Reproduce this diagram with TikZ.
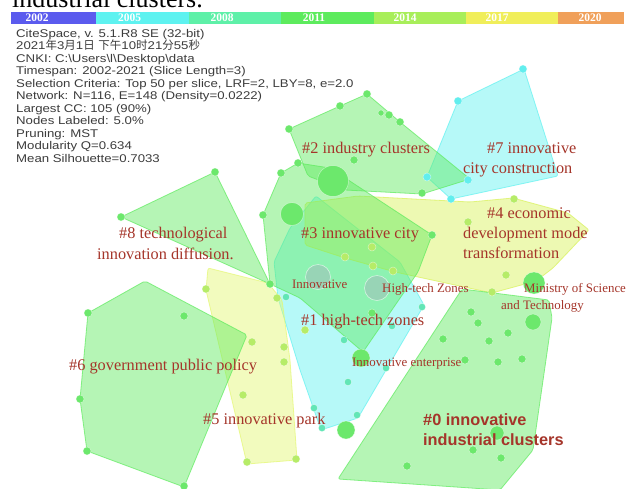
\documentclass[tikz,border=0pt]{standalone}
\usepackage{fontspec}
\setmainfont{Liberation Serif}
\newfontfamily\hdrfont[FakeStretch=1.18]{Liberation Sans}
\newfontfamily\lblsans{Liberation Sans}
\newfontfamily\cjk{Noto Sans CJK SC}
\definecolor{cBlue}{HTML}{5B5BEE}
\definecolor{cCyan}{HTML}{5EF2F0}
\definecolor{cMint}{HTML}{5EF0A8}
\definecolor{cGreen}{HTML}{5DEB5D}
\definecolor{cYG}{HTML}{A8EE5A}
\definecolor{cYel}{HTML}{F0EE5A}
\definecolor{cOra}{HTML}{F0A05A}
\definecolor{hY}{HTML}{E4F870}
\definecolor{hYG}{HTML}{D8F256}
\definecolor{dG}{HTML}{6CE86C}
\definecolor{dYG}{HTML}{B6EC68}
\definecolor{dC}{HTML}{62EEEE}
\definecolor{dT}{HTML}{62E6B6}
\definecolor{dGray}{HTML}{98D4B6}
\definecolor{lbl}{HTML}{A5352A}
\definecolor{hdr}{HTML}{3C3C3C}
\begin{document}
\begin{tikzpicture}[x=1pt,y=-1pt,
  hull/.style={fill opacity=0.45,draw opacity=0.7,line width=0.8pt,rounded corners=2pt,line join=round},
  hullG/.style={hull,fill=cGreen,draw=cGreen},
  hullC/.style={hull,fill=cCyan,draw=cCyan},
  hullY/.style={hull,fill=hY,draw=hY},
  hullYG/.style={hull,fill=hYG,draw=hYG},
  dotG/.style={fill=dG,draw=white,draw opacity=0.5,line width=0.5pt},
  dotYG/.style={fill=dYG,draw=white,draw opacity=0.5,line width=0.5pt},
  dotC/.style={fill=dC,draw=white,draw opacity=0.5,line width=0.5pt},
  dotT/.style={fill=dT,draw=white,draw opacity=0.5,line width=0.5pt},
  dotGray/.style={fill=dGray,draw=white,draw opacity=0.6,line width=0.6pt},
  lab/.style={text=lbl,inner sep=0pt,anchor=base west,font=\fontsize{16.3}{19}\selectfont},
  slab/.style={text=lbl,inner sep=0pt,anchor=base west,font=\fontsize{12.9}{15}\selectfont},
  blab/.style={text=lbl,inner sep=0pt,anchor=base west,font=\lblsans\bfseries\fontsize{16.3}{19}\selectfont},
  hline/.style={text=hdr,inner sep=0pt,anchor=base west,font=\hdrfont\fontsize{11.2}{12.5}\selectfont},
  barlbl/.style={text=white,inner sep=0pt,font=\bfseries\fontsize{11.5}{12}\selectfont}
]
\useasboundingbox (0,0) rectangle (627,488);
\clip (0,0) rectangle (627,488);
\fill[white] (0,0) rectangle (627,488);

% cut-off text at top
\node[inner sep=0pt,anchor=base west,font=\fontsize{26}{30}\selectfont] (toptext) at (12,7) {industrial clusters.};

% colour bar
\fill[cBlue] (11,12) rectangle (96,24);
\fill[cCyan] (96,12) rectangle (189,24);
\fill[cMint] (189,12) rectangle (281,24);
\fill[cGreen] (281,12) rectangle (374,24);
\fill[cYG] (374,12) rectangle (466,24);
\fill[cYel] (466,12) rectangle (558,24);
\fill[cOra] (558,12) rectangle (624,24);
\node[barlbl] (y2002) at (37,18) {2002};
\node[barlbl] (y2005) at (129.5,18) {2005};
\node[barlbl] (y2008) at (222,18) {2008};
\node[barlbl] (y2011) at (314,18) {2011};
\node[barlbl] (y2014) at (405,18) {2014};
\node[barlbl] (y2017) at (497,18) {2017};
\node[barlbl] (y2020) at (590,18) {2020};

% header
\node[hline] (h1) at (16,37) {CiteSpace, v. 5.1.R8 SE (32-bit)};
\node[hline] (h2) at (16,49.5) {2021{\cjk\fontsize{11.5}{12.5}\selectfont 年}3{\cjk\fontsize{11.5}{12.5}\selectfont 月}1{\cjk\fontsize{11.5}{12.5}\selectfont 日} {\cjk\fontsize{11.5}{12.5}\selectfont 下午}10{\cjk\fontsize{11.5}{12.5}\selectfont 时}21{\cjk\fontsize{11.5}{12.5}\selectfont 分}55{\cjk\fontsize{11.5}{12.5}\selectfont 秒}};
\node[hline] (h3) at (16,62) {CNKI: C:\textbackslash Users\textbackslash l\textbackslash Desktop\textbackslash data};
\node[hline] (h4) at (16,74.5) {Timespan: 2002-2021 (Slice Length=3)};
\node[hline] (h5) at (16,87) {Selection Criteria: Top 50 per slice, LRF=2, LBY=8, e=2.0};
\node[hline] (h6) at (16,99.5) {Network: N=116, E=148 (Density=0.0222)};
\node[hline] (h7) at (16,112) {Largest CC: 105 (90\%)};
\node[hline] (h8) at (16,124.5) {Nodes Labeled: 5.0\%};
\node[hline] (h9) at (16,137) {Pruning: MST};
\node[hline] (h10) at (16,149.5) {Modularity Q=0.634};
\node[hline] (h11) at (16,162) {Mean Silhouette=0.7033};

% hulls
\draw[hullC] (316,196) -- (400,262) -- (424,305) -- (358,418) -- (321,430) -- (300,370) -- (278,298) -- (274,262) -- (290,228) -- cycle;
\draw[hullC] (458,101) -- (524,69) -- (558,176) -- (451,199) -- (427,177) -- cycle;
\draw[hullY] (208,268) -- (268,283) -- (282,300) -- (290,360) -- (297,460) -- (247,464) -- (206,290) -- cycle;
\draw[hullYG] (305,203) -- (358,196) -- (470,202) -- (513,198) -- (568,213) -- (589,230) -- (553,268) -- (536,281) -- (492,293) -- (395,272) -- (345,258) -- (305,245) -- cycle;
\draw[hullG] (88,313) -- (145,281) -- (247,335) -- (184,487) -- (87,451) -- (80,399) -- cycle;
\draw[hullG] (215,172) -- (121,217) -- (270,284) -- cycle;
\draw[hullG] (263,215) -- (281,173) -- (298,163) -- (330,168) -- (432,235) -- (418,272) -- (363,352) -- (300,298) -- (270,284) -- cycle;
\draw[hullG] (289,129) -- (340,106) -- (367,94) -- (400,122) -- (470,179) -- (422,194) -- (345,190) -- (308,176) -- cycle;
\draw[hullG] (462,289) -- (549,300) -- (552,318) -- (533,450) -- (500,490) -- (338,479) -- cycle;

% dots
\foreach \x/\y in {367/94,340/106,389/115,400/122,289/129,354/160,281/173,298/163,263/215,422/193,432/235,215/172,121/217,270/284,88/313,184/316,80/399,87/451,184/486,372/313,443/339,471/312,478/323,508/333,489/341,465/360,498/362,522/359,473/450,501/458,407/466}
  \filldraw[dotG] (\x,\y) circle (4pt);
\filldraw[dotG] (381,113) circle (3pt);
\foreach \x/\y/\r in {333/181/15.5,292/214/11.5,534/283/11,533/322/8,361/358/9,346/430/9,497/433/7}
  \filldraw[dotG] (\x,\y) circle (\r pt);
\foreach \x/\y in {514/199,468/222,372/247,345/257,373/266,393/271,506/275,492/292,206/289,277/298,305/330,252/342,284/347,284/362,243/395,247/462,296/459}
  \filldraw[dotYG] (\x,\y) circle (4pt);
\foreach \x/\y in {523/69,458/101,427/177,468/180,451/199}
  \filldraw[dotC] (\x,\y) circle (4pt);
\foreach \x/\y in {286/297,422/307,344/340,386/368,348/382,314/408,357/415,322/428,392/326}
  \filldraw[dotT] (\x,\y) circle (3.6pt);
\filldraw[dotGray] (318,277) circle (12.5pt);
\filldraw[dotGray] (377,288) circle (12.5pt);

% labels
\node[lab] (c2) at (302,153) {\#2 industry clusters};
\node[lab] (c7a) at (487,153) {\#7 innovative};
\node[lab] (c7b) at (463,173) {city construction};
\node[lab] (c4a) at (487,218) {\#4 economic};
\node[lab] (c4b) at (463,238) {development mode};
\node[lab] (c4c) at (463,258) {transformation};
\node[lab] (c3) at (301,238) {\#3 innovative city};
\node[lab] (c8a) at (119,238) {\#8 technological};
\node[lab] (c8b) at (97,259) {innovation diffusion.};
\node[lab] (c1) at (301,325) {\#1 high-tech zones};
\node[lab] (c6) at (69,370) {\#6 government public policy};
\node[lab] (c5) at (203,424) {\#5 innovative park};
\node[slab] (k1) at (292,288) {Innovative};
\node[slab] (k2) at (382,292) {High-tech Zones};
\node[slab] (k3) at (352,366) {Innovative enterprise};
\node[slab] (k4a) at (524,292) {Ministry of Science};
\node[slab] (k4b) at (501,309) {and Technology};
\node[blab] (c0a) at (423,425) {\#0 innovative};
\node[blab] (c0b) at (423,445) {industrial clusters};
\end{tikzpicture}
\end{document}
